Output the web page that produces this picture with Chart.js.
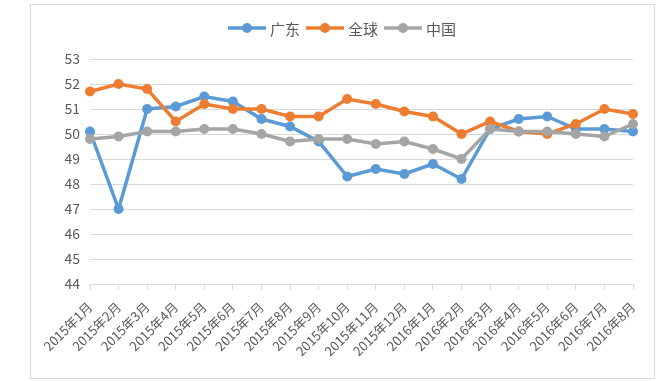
<!DOCTYPE html>
<html>
<head>
<meta charset="utf-8">
<script src="https://cdn.jsdelivr.net/npm/chart.js@4/dist/chart.umd.min.js"></script>
<style>
html,body{margin:0;padding:0;background:#fff;}
#c{display:block;}
</style>
</head>
<body>
<canvas id="c" width="660" height="381"></canvas>
<script>
const categories = ["2015年1月","2015年2月","2015年3月","2015年4月","2015年5月","2015年6月","2015年7月","2015年8月","2015年9月","2015年10月","2015年11月","2015年12月","2016年1月","2016年2月","2016年3月","2016年4月","2016年5月","2016年6月","2016年7月","2016年8月"];
const seriesNames = ["广东","全球","中国"];
const guangdong = [50.1,47.0,51.0,51.1,51.5,51.3,50.6,50.3,49.7,48.3,48.6,48.4,48.8,48.2,50.2,50.6,50.7,50.2,50.2,50.1];
const global = [51.7,52.0,51.8,50.5,51.2,51.0,51.0,50.7,50.7,51.4,51.2,50.9,50.7,50.0,50.5,50.1,50.0,50.4,51.0,50.8];
const china = [49.8,49.9,50.1,50.1,50.2,50.2,50.0,49.7,49.8,49.8,49.6,49.7,49.4,49.0,50.2,50.1,50.1,50.0,49.9,50.4];
const yTicks = [44,45,46,47,48,49,50,51,52,53];
const colors = ["#5B9BD5","#ED7D31","#A5A5A5"];

const FONT = '"Noto Sans CJK SC", "Noto Sans", sans-serif';
const TEXT = '#595959';
const GRID = '#d9d9d9';

function ds(label, data, color, order){
  return {label, data, borderColor: color, backgroundColor: color,
    pointBackgroundColor: color, pointBorderColor: color,
    borderWidth: 3.5, pointRadius: 5, pointHoverRadius: 5, pointBorderWidth: 0,
    tension: 0, fill: false, order};
}

const frame = {
  id: 'frame',
  beforeDraw(chart){
    const ctx = chart.ctx;
    ctx.save();
    ctx.fillStyle = '#fff';
    ctx.fillRect(0,0,chart.width,chart.height);
    ctx.strokeStyle = GRID;
    ctx.lineWidth = 1;
    ctx.strokeRect(30.5,4.5,624,374);
    ctx.restore();
  }
};

const legendPlugin = {
  id: 'customLegend',
  afterDraw(chart){
    const ctx = chart.ctx;
    ctx.save();
    ctx.font = '15px ' + FONT;
    const lineLen = 38, gapText = 4, gapItem = 6;
    const widths = seriesNames.map(n => ctx.measureText(n).width);
    let total = 0;
    widths.forEach((w,i)=>{ total += lineLen + gapText + w; if(i<widths.length-1) total += gapItem; });
    let x = 342 - total/2;
    const y = 28;
    seriesNames.forEach((n,i)=>{
      ctx.strokeStyle = colors[i];
      ctx.lineWidth = 3.5;
      ctx.beginPath(); ctx.moveTo(x,y); ctx.lineTo(x+lineLen,y); ctx.stroke();
      ctx.fillStyle = colors[i];
      ctx.beginPath(); ctx.arc(x+lineLen/2,y,5,0,Math.PI*2); ctx.fill();
      ctx.fillStyle = TEXT;
      ctx.textBaseline = 'middle';
      ctx.textAlign = 'left';
      ctx.fillText(n, x+lineLen+gapText, y+1);
      x += lineLen + gapText + widths[i] + gapItem;
    });
    ctx.restore();
  }
};

new Chart(document.getElementById('c'), {
  type: 'line',
  data: {
    labels: categories,
    datasets: [
      ds(seriesNames[0], guangdong, colors[0], 2),
      ds(seriesNames[1], global, colors[1], 1),
      ds(seriesNames[2], china, colors[2], 0)
    ]
  },
  options: {
    responsive: false,
    devicePixelRatio: 1,
    animation: false,
    layout: {padding: {left: 30, right: 27, top: 59, bottom: 7}},
    plugins: {legend: {display: false}, tooltip: {enabled: false}},
    scales: {
      x: {
        offset: false,
        grid: {drawOnChartArea: false, drawTicks: true, tickLength: 6, color: GRID},
        border: {color: GRID},
        ticks: {minRotation: 45, maxRotation: 45, autoSkip: false, color: TEXT,
          font: {family: FONT, size: 13}, padding: 9},
        afterFit(scale){ scale.height = 90; }
      },
      y: {
        min: 44, max: 53,
        afterBuildTicks(scale){ scale.ticks = yTicks.map(v=>({value:v})); },
        grid: {color: GRID, drawTicks: false},
        border: {display: false},
        ticks: {color: TEXT, font: {family: FONT, size: 14}, padding: 10},
        afterFit(scale){ scale.width = 60; }
      }
    }
  },
  plugins: [frame, legendPlugin]
});
</script>
</body>
</html>
